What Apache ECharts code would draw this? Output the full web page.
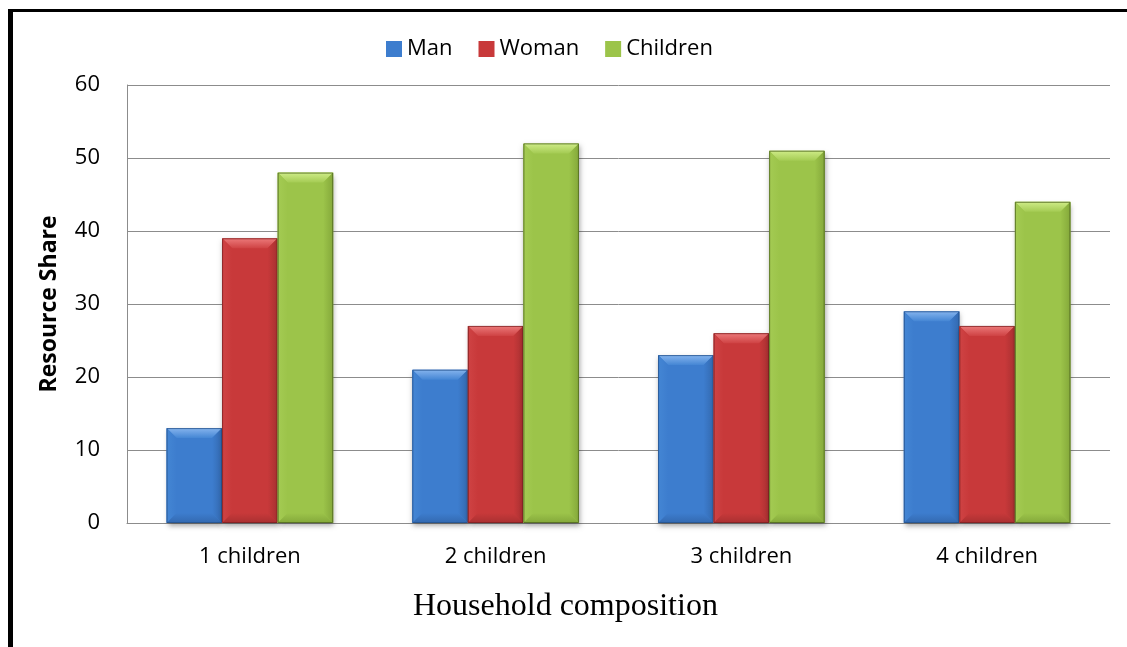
<!DOCTYPE html>
<html>
<head>
<meta charset="utf-8">
<script src="https://cdn.jsdelivr.net/npm/echarts@6/dist/echarts.min.js"></script>
<style>
  html, body { margin: 0; padding: 0; background: #fff; }
  #frame {
    position: absolute; left: 8px; top: 9px; width: 1119px; height: 638px;
    border-left: 5px solid #000; border-top: 3px solid #000; box-sizing: border-box;
  }
  #chart { position: absolute; left: 0; top: 0; width: 1127px; height: 647px; }
</style>
</head>
<body>
<div id="chart"></div>
<div id="frame"></div>
<script>
// Resource share by household composition
const categories = ['1 children', '2 children', '3 children', '4 children'];
const seriesNames = ['Man', 'Woman', 'Children'];
const manShare = [13, 21, 23, 29];
const womanShare = [39, 27, 26, 27];
const childrenShare = [48, 52, 51, 44];
const yMin = 0, yMax = 60, yStep = 10;

// bevelled bar palette: base, top highlight, left side, right/bottom shade, outline
const palette = [
  { base: '#3d7dce', light: '#86b4ee', side: '#4486d4', shade: '#3369b0', edge: '#25528c' },
  { base: '#c8393a', light: '#ec7a7a', side: '#cf4344', shade: '#a93031', edge: '#7d2022' },
  { base: '#9cc44a', light: '#cfec88', side: '#a4cb53', shade: '#84a83a', edge: '#4f6620' }
];

const BAR_RATIO = 0.226; // bar width as a share of the category band
const BEVEL = 10;

function makeRender(idx) {
  const c = palette[idx];
  return function (params, api) {
    const cat = api.value(0);
    const val = api.value(1);
    const base = api.coord([cat, yMin]);
    const top = api.coord([cat, val]);
    const band = api.size([1, 0])[0];
    const w = band * BAR_RATIO;
    const x0 = base[0] + (idx - 1.5) * w;
    const x1 = x0 + w;
    const y0 = top[1];
    const yb = base[1];
    const d = Math.min(BEVEL, w / 2, (yb - y0) / 2);
    return {
      type: 'group',
      children: [
        {
          type: 'rect',
          shape: { x: x0, y: y0, width: w, height: yb - y0 },
          style: {
            fill: c.base,
            shadowBlur: 5, shadowOffsetY: 3, shadowOffsetX: 1,
            shadowColor: 'rgba(0,0,0,0.35)'
          }
        },
        {
          type: 'polygon',
          shape: { points: [[x0, y0], [x1, y0], [x1 - d, y0 + d], [x0 + d, y0 + d]] },
          style: { fill: new echarts.graphic.LinearGradient(0, 0, 0, 1, [
            { offset: 0, color: c.light },
            { offset: 1, color: c.side }
          ]) }
        },
        {
          type: 'polygon',
          shape: { points: [[x0, y0], [x0 + d, y0 + d], [x0 + d, yb - d], [x0, yb]] },
          style: { fill: new echarts.graphic.LinearGradient(0, 0, 1, 0, [
            { offset: 0, color: c.side },
            { offset: 1, color: c.base }
          ]) }
        },
        {
          type: 'polygon',
          shape: { points: [[x1, y0], [x1, yb], [x1 - d, yb - d], [x1 - d, y0 + d]] },
          style: { fill: new echarts.graphic.LinearGradient(0, 0, 1, 0, [
            { offset: 0, color: c.base },
            { offset: 1, color: c.shade }
          ]) }
        },
        {
          type: 'polygon',
          shape: { points: [[x0, yb], [x1, yb], [x1 - d, yb - d], [x0 + d, yb - d]] },
          style: { fill: new echarts.graphic.LinearGradient(0, 0, 0, 1, [
            { offset: 0, color: c.base },
            { offset: 1, color: c.shade }
          ]) }
        },
        {
          type: 'rect',
          shape: { x: x0 + 0.5, y: y0 + 0.5, width: w - 1, height: yb - y0 - 1 },
          style: { fill: 'none', stroke: c.edge, lineWidth: 1, opacity: 0.8 }
        }
      ]
    };
  };
}

const values = [manShare, womanShare, childrenShare];
const series = seriesNames.map((name, i) => ({
  name: name,
  type: 'custom',
  renderItem: makeRender(i),
  itemStyle: { color: palette[i].base },
  encode: { x: 0, y: 1 },
  data: values[i].map((v, k) => [k, v]),
  z: 3
}));

const chart = echarts.init(document.getElementById('chart'), null, { renderer: 'canvas' });
chart.setOption({
  animation: false,
  backgroundColor: '#fff',
  textStyle: { fontFamily: 'Open Sans' },
  legend: {
    data: seriesNames,
    left: 381,
    top: 33,
    icon: 'rect',
    itemWidth: 16,
    itemHeight: 16,
    itemGap: 26,
    textStyle: { fontFamily: 'Open Sans', fontSize: 22, color: '#000' }
  },
  grid: { left: 127, right: 17, top: 85, bottom: 124, containLabel: false },
  xAxis: {
    type: 'category',
    data: categories,
    axisLine: { lineStyle: { color: '#8c8c8c', width: 1 } },
    axisTick: { show: false },
    axisLabel: { fontFamily: 'Open Sans', fontSize: 22, color: '#000', margin: 23 },
    splitLine: { show: false }
  },
  yAxis: {
    type: 'value',
    min: yMin, max: yMax, interval: yStep,
    name: 'Resource Share',
    nameLocation: 'middle',
    nameGap: 66,
    nameTextStyle: { fontFamily: 'Open Sans', fontSize: 23, fontWeight: 'bold', color: '#000' },
    axisLine: { show: true, lineStyle: { color: '#8c8c8c', width: 1 } },
    axisTick: { show: false },
    axisLabel: { fontFamily: 'Open Sans', fontSize: 22, color: '#000', margin: 27 },
    splitLine: { lineStyle: { color: '#8c8c8c', width: 1 } }
  },
  graphic: [{
    type: 'text',
    left: 413,
    top: 591,
    style: {
      text: 'Household composition',
      font: '32px "Liberation Serif"',
      fill: '#000'
    }
  }],
  series: series
});
</script>
</body>
</html>
